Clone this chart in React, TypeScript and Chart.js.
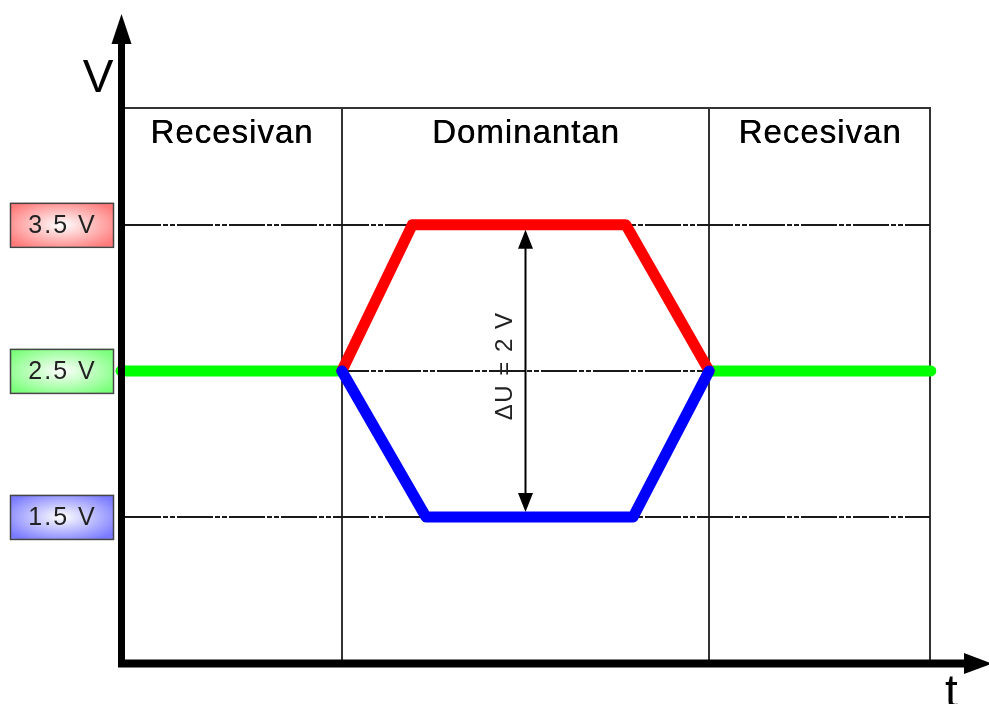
import React, { useEffect, useRef } from "react";
import { Chart, registerables } from "chart.js";

Chart.register(...registerables);

// ---- data (time in arbitrary units 0..100, voltage in V) ----
const regionBounds = [0, 27.3, 72.7, 100];
const regionLabels = ["Recesivan", "Dominantan", "Recesivan"];
const levelValues = [3.5, 2.5, 1.5];
const levelLabels = ["3.5 V", "2.5 V", "1.5 V"];
const levelFill = ["#ff7a7a", "#7aff7a", "#7a7aff"];

const greenLeftT = [0, 27.3];
const greenLeftV = [2.5, 2.5];
const greenRightT = [72.7, 100.1];
const greenRightV = [2.5, 2.5];
const canHighT = [27.3, 36.0, 62.4, 72.7];
const canHighV = [2.5, 3.5, 3.5, 2.5];
const canLowT = [27.3, 37.7, 63.3, 72.7];
const canLowV = [2.5, 1.5, 1.5, 2.5];
const deltaLabel = "\u0394U = 2 V";
const yAxisLabel = "V";
const xAxisLabel = "t";

const pts = (t: number[], v: number[]) => t.map((x, i) => ({ x, y: v[i] }));

const FONT = '"Liberation Sans", Arial, sans-serif';

const decorPlugin = {
  id: "decor",
  beforeDatasetsDraw(chart: any) {
    const { ctx, chartArea, scales } = chart;
    const xs = scales.x;
    const ys = scales.y;
    const L = chartArea.left;
    const R = xs.getPixelForValue(regionBounds[regionBounds.length - 1]);
    const T = chartArea.top;
    const B = chartArea.bottom;
    ctx.save();
    // border and region separators
    ctx.strokeStyle = "#333";
    ctx.lineWidth = 2;
    ctx.beginPath();
    ctx.moveTo(L, T);
    ctx.lineTo(R + 1, T);
    ctx.stroke();
    regionBounds.slice(1).forEach((b) => {
      const px = Math.round(xs.getPixelForValue(b));
      ctx.lineWidth = 2;
      ctx.beginPath();
      ctx.moveTo(px, T);
      ctx.lineTo(px, B);
      ctx.stroke();
    });
    // dash-dot level lines
    ctx.strokeStyle = "#1a1a1a";
    ctx.lineWidth = 2;
    ctx.setLineDash([36, 2, 5, 2, 5, 2]);
    levelValues.forEach((v) => {
      const py = Math.round(ys.getPixelForValue(v));
      ctx.beginPath();
      ctx.moveTo(L + 4, py);
      ctx.lineTo(R, py);
      ctx.stroke();
    });
    ctx.setLineDash([]);
    // region labels
    ctx.fillStyle = "#000";
    ctx.font = `33px ${FONT}`;
    (ctx as any).letterSpacing = "1px";
    ctx.textAlign = "center";
    ctx.textBaseline = "alphabetic";
    regionLabels.forEach((lab, i) => {
      const cx = (xs.getPixelForValue(regionBounds[i]) + xs.getPixelForValue(regionBounds[i + 1])) / 2;
      ctx.fillText(lab, cx + 0.5, T + 35);
      ctx.fillText(lab, cx + 0.9, T + 35);
    });
    ctx.restore();
  },
  afterDatasetsDraw(chart: any) {
    const { ctx, chartArea, scales } = chart;
    const xs = scales.x;
    const ys = scales.y;
    const L = chartArea.left;
    const B = chartArea.bottom;
    ctx.save();
    // delta U arrow in the middle of dominant region
    const ax = (xs.getPixelForValue(regionBounds[1]) + xs.getPixelForValue(regionBounds[2])) / 2;
    const yTop = ys.getPixelForValue(levelValues[0]) + 5;
    const yBot = ys.getPixelForValue(levelValues[2]) - 5;
    ctx.strokeStyle = "#000";
    ctx.fillStyle = "#000";
    ctx.lineWidth = 2;
    ctx.beginPath();
    ctx.moveTo(ax, yTop + 10);
    ctx.lineTo(ax, yBot - 10);
    ctx.stroke();
    ctx.beginPath();
    ctx.moveTo(ax, yTop);
    ctx.lineTo(ax - 7.5, yTop + 19);
    ctx.lineTo(ax + 7.5, yTop + 19);
    ctx.closePath();
    ctx.fill();
    ctx.beginPath();
    ctx.moveTo(ax, yBot);
    ctx.lineTo(ax - 7.5, yBot - 19);
    ctx.lineTo(ax + 7.5, yBot - 19);
    ctx.closePath();
    ctx.fill();
    ctx.save();
    ctx.translate(ax - 20, (yTop + yBot) / 2 - 5);
    ctx.rotate(-Math.PI / 2);
    ctx.fillStyle = "#222";
    ctx.font = `24px ${FONT}`;
    (ctx as any).letterSpacing = "1.5px";
    ctx.textAlign = "center";
    ctx.textBaseline = "middle";
    ctx.fillText(deltaLabel, 0, 0);
    ctx.restore();

    // axes
    ctx.fillStyle = "#000";
    const axX = L + 0.5;
    ctx.fillRect(axX - 3.5, 40, 7, B + 4 - 40);
    ctx.fillRect(axX - 3.5, B - 3.5, 965 - (axX - 3.5), 8);
    ctx.beginPath();
    ctx.moveTo(axX, 14);
    ctx.lineTo(axX - 10, 44);
    ctx.lineTo(axX + 10, 44);
    ctx.closePath();
    ctx.fill();
    ctx.beginPath();
    ctx.moveTo(992, B + 0.5);
    ctx.lineTo(964, B - 10);
    ctx.lineTo(964, B + 11);
    ctx.closePath();
    ctx.fill();

    // axis letters
    ctx.font = `46px ${FONT}`;
    ctx.textAlign = "center";
    ctx.textBaseline = "alphabetic";
    ctx.fillText(yAxisLabel, 98, 92);
    ctx.fillText(xAxisLabel, 951.5, 707);

    // level label boxes
    const bw = 103;
    const bh = 44;
    const bx = 10;
    levelValues.forEach((v, i) => {
      const cy = ys.getPixelForValue(v);
      const by = cy - bh / 2;
      ctx.save();
      ctx.translate(bx + bw / 2, cy);
      ctx.scale(1, bh / bw);
      const g = ctx.createRadialGradient(0, 0, 0, 0, 0, bw * 0.62);
      g.addColorStop(0, "#ffffff");
      g.addColorStop(1, levelFill[i]);
      ctx.fillStyle = g;
      ctx.fillRect(-bw / 2, -bw / 2, bw, bw);
      ctx.restore();
      ctx.strokeStyle = "#444";
      ctx.lineWidth = 1.5;
      ctx.strokeRect(bx + 0.5, by + 0.5, bw, bh);
      ctx.fillStyle = "#222";
      ctx.font = `25px ${FONT}`;
      (ctx as any).letterSpacing = "2px";
      ctx.textAlign = "center";
      ctx.textBaseline = "middle";
      ctx.fillText(levelLabels[i], bx + bw / 2 + 1, cy + 1);
    });
    ctx.restore();
  },
};

export default function App() {
  const ref = useRef<HTMLCanvasElement | null>(null);
  useEffect(() => {
    if (!ref.current) return;
    const lineDs = (data: any[], color: string) => ({
      data,
      borderColor: color,
      backgroundColor: color,
      borderWidth: 11,
      pointRadius: 0,
      borderCapStyle: "round" as const,
      borderJoinStyle: "round" as const,
      tension: 0,
      fill: false,
      clip: false as any,
    });
    const chart = new Chart(ref.current, {
      type: "line",
      data: {
        datasets: [
          lineDs(pts(canLowT, canLowV), "#0000ff"),
          lineDs(pts(canHighT, canHighV), "#ff0000"),
          lineDs(pts(greenLeftT, greenLeftV), "#00ff00"),
          lineDs(pts(greenRightT, greenRightV), "#00ff00"),
        ],
      },
      options: {
        animation: false,
        responsive: false,
        events: [],
        layout: { padding: { left: 121, right: 59, top: 108, bottom: 41 } },
        plugins: { legend: { display: false }, tooltip: { enabled: false } },
        scales: {
          x: { type: "linear", min: 0, max: 100, display: false },
          y: { type: "linear", min: 0.5, max: 4.3, display: false },
        },
      },
      plugins: [decorPlugin],
    });
    return () => chart.destroy();
  }, []);
  return (
    <div style={{ position: "fixed", left: 0, top: 0, width: 989, height: 704, background: "#fff" }}>
      <canvas ref={ref} width={989} height={704} style={{ display: "block" }} />
    </div>
  );
}
